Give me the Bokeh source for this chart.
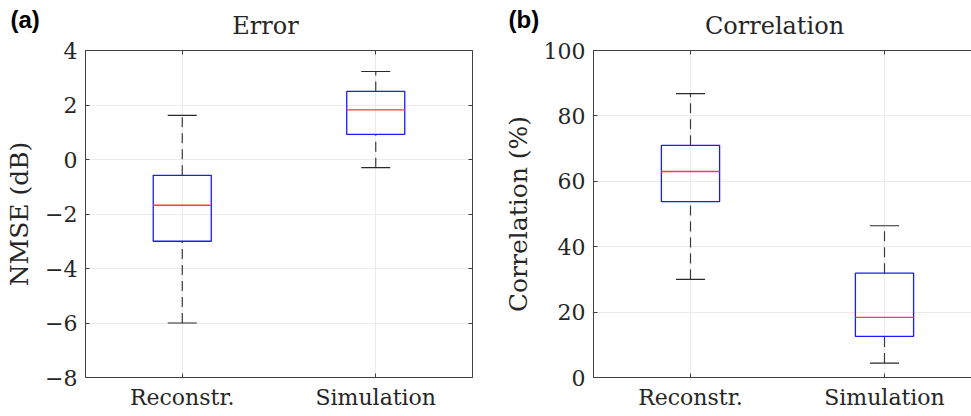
from bokeh.plotting import figure
from bokeh.models import (ColumnDataSource, FixedTicker, LinearAxis, Range1d, Label)
from bokeh.layouts import row, column
from bokeh.transform import dodge
from bokeh.embed import file_html
from bokeh.resources import INLINE

categories = ["Reconstr.", "Simulation"]
positions = [1, 2]

# Panel (a): NMSE (dB)
err_lo = [-6.0, -0.3]
err_q1 = [-3.0, 0.92]
err_med = [-1.68, 1.82]
err_q3 = [-0.58, 2.5]
err_hi = [1.62, 3.23]
err_ticks = [-8, -6, -4, -2, 0, 2, 4]

# Panel (b): Correlation (%)
cor_lo = [30.0, 4.4]
cor_q1 = [53.8, 12.6]
cor_med = [63.0, 18.4]
cor_q3 = [71.0, 31.9]
cor_hi = [86.8, 46.4]
cor_ticks = [0, 20, 40, 60, 80, 100]

SERIF = "DejaVu Serif"
TXT = "#262626"
AX = "#404040"
HEAD_H = 40


def fmt(v):
    return ("\u2212" + str(-v)) if v < 0 else str(v)


def header(width, letter, lx, title, tx):
    h = figure(output_backend="svg", toolbar_location=None, width=width, height=HEAD_H,
               min_border=0, x_range=Range1d(0, 1), y_range=Range1d(0, 1),
               x_axis_location=None, y_axis_location=None)
    h.outline_line_color = None
    h.grid.visible = False
    h.background_fill_color = "white"
    h.border_fill_color = "white"
    h.add_layout(Label(x=lx, y=21, x_units="screen", y_units="screen",
                       text=letter, text_font="Liberation Sans", text_font_style="bold",
                       text_font_size="24px", text_color="black",
                       text_baseline="alphabetic"))
    h.add_layout(Label(x=tx, y=15, x_units="screen", y_units="screen",
                       text=title, text_font=SERIF, text_font_size="24px",
                       text_color=TXT, text_align="center", text_baseline="alphabetic"))
    return h


def panel(lo, q1, med, q3, hi, ticks, yr, ylabel, bl, fw, br, xr_end, right_axis):
    p = figure(output_backend="svg", toolbar_location=None,
               width=bl + fw + br, height=416 - HEAD_H,
               min_border_left=bl, min_border_right=br,
               min_border_top=50 - HEAD_H, min_border_bottom=416 - HEAD_H - 10 - 327,
               x_range=Range1d(0.5, xr_end), y_range=Range1d(*yr),
               y_axis_location=None, x_axis_location=None)
    p.outline_line_color = None
    p.background_fill_color = "white"
    p.border_fill_color = "white"

    src = ColumnDataSource(dict(x=positions, lo=lo, q1=q1, med=med, q3=q3, hi=hi))

    # dashed whiskers
    p.segment(x0="x", x1="x", y0="q3", y1="hi", source=src,
              line_color="#3a3a3a", line_dash="10 6", line_width=1.2)
    p.segment(x0="x", x1="x", y0="lo", y1="q1", source=src,
              line_color="#3a3a3a", line_dash="10 6", line_width=1.2)
    # caps
    p.segment(x0=dodge("x", -0.075), x1=dodge("x", 0.075), y0="hi", y1="hi",
              source=src, line_color="#2a2a2a", line_width=1.2)
    p.segment(x0=dodge("x", -0.075), x1=dodge("x", 0.075), y0="lo", y1="lo",
              source=src, line_color="#2a2a2a", line_width=1.2)
    # boxes
    p.vbar(x="x", width=0.3, bottom="q1", top="q3", source=src,
           fill_color=None, line_color="#1a1aff", line_width=1.3)
    # medians
    p.segment(x0=dodge("x", -0.15), x1=dodge("x", 0.15), y0="med", y1="med",
              source=src, line_color="#ff3b3b", line_width=1.4)

    def style(ax, size="22px"):
        ax.axis_line_color = AX
        ax.major_tick_line_color = AX
        ax.major_tick_in = 4
        ax.major_tick_out = 0
        ax.minor_tick_line_color = None
        ax.major_label_text_font = SERIF
        ax.major_label_text_color = TXT
        ax.major_label_text_font_size = size
        ax.axis_label_text_font = SERIF
        ax.axis_label_text_font_style = "normal"
        ax.axis_label_text_color = TXT
        ax.axis_label_text_font_size = "25px"

    yax = LinearAxis(ticker=FixedTicker(ticks=ticks), axis_label=ylabel,
                     major_label_overrides={t: fmt(t) for t in ticks})
    style(yax)
    yax.major_label_standoff = 8
    yax.axis_label_standoff = 8
    p.add_layout(yax, "left")

    xax = LinearAxis(ticker=FixedTicker(ticks=positions),
                     major_label_overrides={pos: c for pos, c in zip(positions, categories)})
    style(xax)
    xax.major_label_standoff = 7
    p.add_layout(xax, "below")

    top = LinearAxis(ticker=FixedTicker(ticks=positions),
                     major_label_overrides={t: "" for t in positions})
    style(top, "1px")
    top.major_label_standoff = 0
    p.add_layout(top, "above")
    if right_axis:
        rax = LinearAxis(ticker=FixedTicker(ticks=ticks),
                         major_label_overrides={t: "" for t in ticks})
        style(rax, "1px")
        rax.major_label_standoff = 0
        p.add_layout(rax, "right")

    p.xgrid.ticker = FixedTicker(ticks=positions)
    p.ygrid.ticker = FixedTicker(ticks=ticks)
    p.grid.grid_line_color = "#ebebeb"
    p.grid.grid_line_width = 1
    return p


LW, RW = 482, 489
pa = panel(err_lo, err_q1, err_med, err_q3, err_hi, err_ticks, (-8, 4),
           "NMSE (dB)", 85, 387, 10, 2.5, True)
pb = panel(cor_lo, cor_q1, cor_med, cor_q3, cor_hi, cor_ticks, (0, 100),
           "Correlation (%)", 111, 378, 0, 0.5 + 378 / 194, False)
ha = header(LW, "(a)", 10, "Error", 265)
hb = header(RW, "(b)", 26, "Correlation", 774 - LW)

layout = column(row(ha, hb, spacing=0), row(pa, pb, spacing=0), spacing=0)
open("out.html", "w").write(file_html(layout, INLINE))
